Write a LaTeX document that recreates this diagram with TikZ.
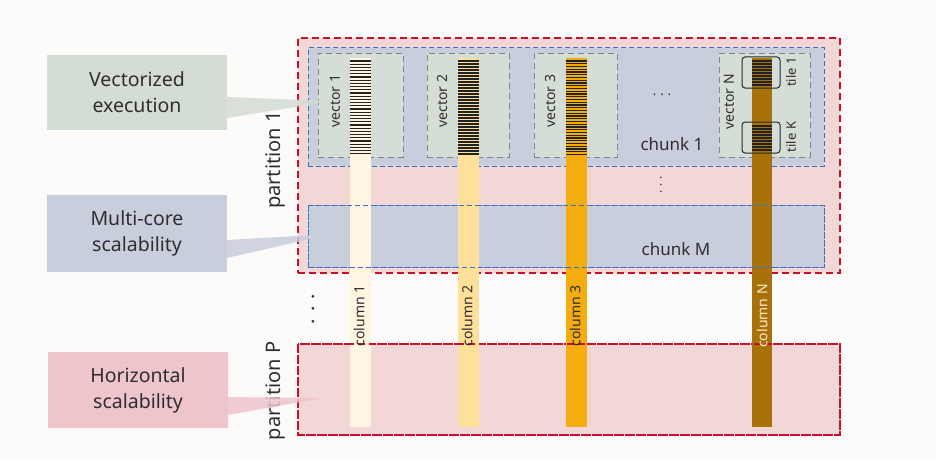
\documentclass[tikz,border=0pt]{standalone}
\usepackage{fontspec}
\setmainfont{Noto Sans}
\definecolor{bg}{HTML}{FDFBFA}
\definecolor{txt}{HTML}{2E2E2E}
\definecolor{partfill}{HTML}{F3D7D6}
\definecolor{partline}{HTML}{C8102E}
\definecolor{chunkfill}{HTML}{C8CEDC}
\definecolor{chunkline}{HTML}{3A73C0}
\definecolor{vecfill}{HTML}{D4DDD6}
\definecolor{vecline}{HTML}{858585}
\definecolor{labA}{HTML}{D3DCD5}
\definecolor{labB}{HTML}{C9CEDC}
\definecolor{labC}{HTML}{EDC5CB}
\definecolor{colA}{HTML}{FFF5E1}
\definecolor{colB}{HTML}{FFE09A}
\definecolor{colC}{HTML}{F5AC0E}
\definecolor{colD}{HTML}{A8720A}
\definecolor{colDtxt}{HTML}{F7E9CC}
\definecolor{stripe}{HTML}{222222}
\begin{document}
\begin{tikzpicture}[x=1pt,y=-1pt,
  every node/.style={inner sep=0pt, outer sep=0pt, text=txt},
  partbox/.style={fill=partfill, draw=partline, line width=1.3pt, dash pattern=on 7pt off 4pt},
  partborder/.style={draw=partline, line width=1.3pt, dash pattern=on 7pt off 4pt},
  chunkbox/.style={fill=chunkfill, draw=chunkline, line width=1pt, dash pattern=on 5pt off 3pt},
  chunkborder/.style={draw=chunkline, line width=1pt, dash pattern=on 5pt off 3pt},
  vecbox/.style={fill=vecfill, draw=vecline, line width=0.9pt, dash pattern=on 6pt off 4pt},
  colbar/.style={minimum height=369pt},
  tilebox/.style={draw=black!85, line width=1pt, rounded corners=3pt, minimum width=38pt, minimum height=31pt},
  stripeline/.style={draw=stripe, line width=1.3pt},
  labbox/.style={minimum width=180pt, align=center, font=\fontsize{19.5}{26}\selectfont},
  parttext/.style={rotate=90, font=\fontsize{20}{22}\selectfont},
  chunktext/.style={font=\fontsize{17}{20}\selectfont},
  vectext/.style={rotate=90, font=\fontsize{14}{16}\selectfont},
  coltext/.style={rotate=90, font=\fontsize{14}{16}\selectfont},
  tiletext/.style={rotate=90, font=\fontsize{13}{14}\selectfont},
]
\useasboundingbox[fill=bg] (0,0) rectangle (936,460);

% partitions and chunks
\node[partbox, minimum width=542pt, minimum height=235pt] (p1) at (569,155.5) {};
\node[partbox, minimum width=542pt, minimum height=91pt] (pP) at (569,389.5) {};
\node[chunkbox, minimum width=516pt, minimum height=118pt] (ch1) at (566,107) {};
\node[chunkbox, minimum width=516pt, minimum height=62pt] (chM) at (566,236) {};

% vector boxes
\node[vecbox, minimum width=85pt, minimum height=104pt] (v1) at (360.5,105) {};
\node[vecbox, minimum width=82pt, minimum height=104pt] (v2) at (468,105) {};
\node[vecbox, minimum width=83pt, minimum height=104pt] (v3) at (575.5,105) {};
\node[vecbox, minimum width=91pt, minimum height=104pt] (vN) at (764.5,105) {};

% columns
\node[colbar, fill=colA, minimum width=21pt] (c1) at (360,242.5) {};
\node[colbar, fill=colB, minimum width=21pt] (c2) at (468,242.5) {};
\node[colbar, fill=colC, minimum width=21pt] (c3) at (576,242.5) {};
\node[colbar, fill=colD, minimum width=20pt] (cN) at (762,242.5) {};

% stripes
\foreach \i in {0,...,29} \draw[stripeline] (349.5,61+\i*3.2) -- (370.5,61+\i*3.2);
\foreach \i in {0,...,31} \draw[stripeline] (457.5,61+\i*3.0) -- (478.5,61+\i*3.0);
\foreach \i in {0,...,34} \draw[stripeline] (565.5,61+\i*2.75) -- (586.5,61+\i*2.75);
\foreach \i in {0,...,8} \draw[stripeline] (752,61+\i*3.0) -- (772,61+\i*3.0);
\foreach \i in {0,...,8} \draw[stripeline] (752,126+\i*3.0) -- (772,126+\i*3.0);

% tiles
\node[tilebox] (t1) at (761,72.5) {};
\node[tilebox] (tK) at (761,137.5) {};
\node[tiletext] (t1l) at (791,72) {tile 1};
\node[tiletext] (tKl) at (791,137) {tile K};

% borders on top of columns
\draw[chunkborder] (chM.north west) rectangle (chM.south east);
\draw[partborder] (pP.north west) rectangle (pP.south east);

% texts
\node[vectext] (v1l) at (335,101) {vector 1};
\node[vectext] (v2l) at (442,101) {vector 2};
\node[vectext] (v3l) at (550,101) {vector 3};
\node[vectext] (vNl) at (729,102) {vector N};

\node[coltext] (c1l) at (359,316) {column 1};
\node[coltext] (c2l) at (467,316) {column 2};
\node[coltext] (c3l) at (575,316) {column 3};
\node[coltext, text=colDtxt] (cNl) at (762,316) {column N};

\node[chunktext] (ch1l) at (672,144) {chunk 1};
\node[chunktext] (chMl) at (676,249) {chunk M};
\node[font=\fontsize{13}{14}\selectfont] (hd) at (662,95) {.\hspace{4pt}.\hspace{4pt}.};
\node[rotate=90, font=\fontsize{12}{14}\selectfont] (vd) at (661,185) {.\hspace{4pt}.\hspace{4pt}.};
\node[rotate=90, font=\fontsize{20}{22}\selectfont] (pd) at (313,309) {.\hspace{7pt}.\hspace{7pt}.};

\node[parttext] (p1l) at (276,160) {partition 1};
\node[parttext] (pPl) at (276,391) {partition P};

% label boxes
\node[labbox, fill=labA, minimum height=75pt] (b1) at (137,92.5) {Vectorized\\execution};
\node[labbox, fill=labB, minimum height=77pt] (b2) at (137,233.5) {Multi-core\\scalability};
\node[labbox, fill=labC, minimum height=76pt] (b3) at (138,390) {Horizontal\\scalability};

% callout wedges
\coordinate (tip1) at (332,101);
\coordinate (tip2) at (332,234);
\coordinate (tip3) at (323,398);
\fill[labA, opacity=0.85] ([yshift=-4.5pt]b1.east) -- (tip1) -- ([yshift=-25.5pt]b1.east) -- cycle;
\fill[labB, opacity=0.85] ([yshift=-6.5pt]b2.east) -- (tip2) -- ([yshift=-24.5pt]b2.east) -- cycle;
\fill[labC, opacity=0.85] ([yshift=-7pt]b3.east) -- (tip3) -- ([yshift=-25pt]b3.east) -- cycle;
\end{tikzpicture}
\end{document}
